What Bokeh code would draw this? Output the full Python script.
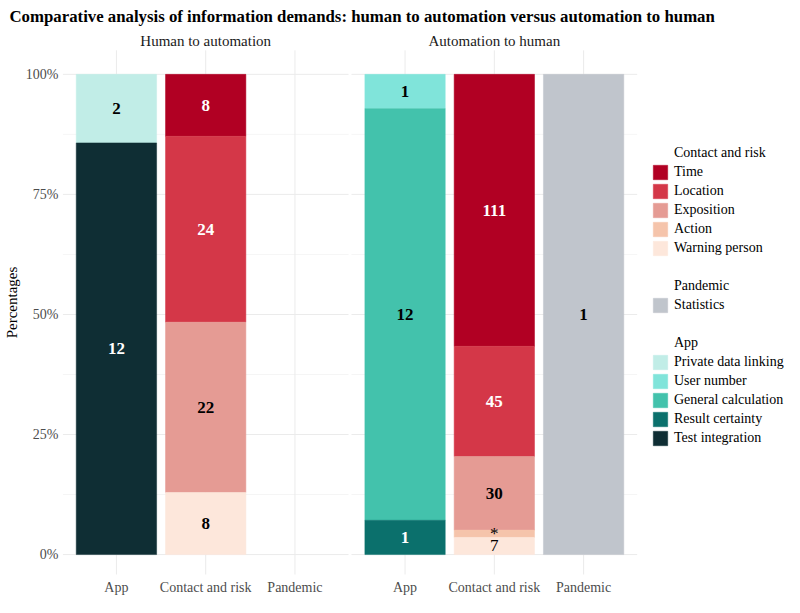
from bokeh.plotting import figure
from bokeh.models import (ColumnDataSource, Range1d, FixedTicker, NumeralTickFormatter,
                          CustomJSTickFormatter, Legend, LegendItem)
from bokeh.core.properties import value
from bokeh.embed import file_html
from bokeh.resources import INLINE

# ---------------- data ----------------
title_text = "Comparative analysis of information demands: human to automation versus automation to human"
panels = ["Human to automation", "Automation to human"]
categories = ["App", "Contact and risk", "Pandemic"]

row_panel = ["Human to automation", "Human to automation",
             "Human to automation", "Human to automation", "Human to automation", "Human to automation",
             "Automation to human", "Automation to human", "Automation to human",
             "Automation to human", "Automation to human", "Automation to human",
             "Automation to human", "Automation to human",
             "Automation to human"]
row_category = ["App", "App",
                "Contact and risk", "Contact and risk", "Contact and risk", "Contact and risk",
                "App", "App", "App",
                "Contact and risk", "Contact and risk", "Contact and risk", "Contact and risk", "Contact and risk",
                "Pandemic"]
row_sub = ["Test integration", "Private data linking",
           "Warning person", "Exposition", "Location", "Time",
           "Result certainty", "General calculation", "User number",
           "Warning person", "Action", "Exposition", "Location", "Time",
           "Statistics"]
row_count = [12, 2,
             8, 22, 24, 8,
             1, 12, 1,
             7, 3, 30, 45, 111,
             1]
row_label = ["12", "2",
             "8", "22", "24", "8",
             "1", "12", "1",
             "7", "*", "30", "45", "111",
             "1"]

# stacking order, bottom to top
stack_order = {
    "App": ["Test integration", "Result certainty", "General calculation", "User number", "Private data linking"],
    "Contact and risk": ["Warning person", "Action", "Exposition", "Location", "Time"],
    "Pandemic": ["Statistics"],
}
legend_groups = ["Contact and risk", "Pandemic", "App"]

y_ticks = [0, 0.25, 0.5, 0.75, 1.0]
y_minor = [0.125, 0.375, 0.625, 0.875]

# ---------------- styles ----------------
fill = {
    "Time": "#B10023", "Location": "#D43748", "Exposition": "#E59B94",
    "Action": "#F5C4AB", "Warning person": "#FDE7DB",
    "Statistics": "#C0C5CC",
    "Private data linking": "#C1EDE7", "User number": "#80E4DA",
    "General calculation": "#43C2AC", "Result certainty": "#0B706C",
    "Test integration": "#0F2E34",
}
white_text = {"Time", "Location", "Test integration", "Result certainty"}
FONT = "Liberation Serif"
PANEL_OFFSET = 3.233
BAR_W = 0.9
LEFT = 53
FRAME_W = 723
PX_PER_UNIT = 89.4

def xpos(panel, cat):
    return categories.index(cat) + 1 + panels.index(panel) * PANEL_OFFSET

# stack computation
totals = {}
for pn, c, n in zip(row_panel, row_category, row_count):
    totals[(pn, c)] = totals.get((pn, c), 0) + n

seg = {}
for pn in panels:
    for c in categories:
        cum = 0.0
        for s in stack_order[c]:
            for i in range(len(row_sub)):
                if row_panel[i] == pn and row_category[i] == c and row_sub[i] == s:
                    frac = row_count[i] / totals[(pn, c)]
                    seg[i] = (cum, cum + frac)
                    cum += frac

p = figure(width=784, height=597, output_backend="svg", toolbar_location=None,
           x_range=Range1d(0.396, 0.396 + FRAME_W / PX_PER_UNIT), y_range=Range1d(-0.0415, 1.0913),
           min_border_left=LEFT, min_border_right=0, min_border_top=29, min_border_bottom=22)
p.outline_line_color = None
p.xgrid.visible = False
p.ygrid.visible = False

# title
p.title.text = title_text
p.title.align = "left"
p.title.offset = -LEFT
p.title.standoff = 9
p.title.text_font = FONT
p.title.text_font_size = "16.8px"
p.title.text_font_style = "bold"
p.title.text_color = "#000000"

# grid lines per panel
gx0, gx1, gy0, gy1, gw = [], [], [], [], []
for k in range(len(panels)):
    lo, hi = 0.4 + k * PANEL_OFFSET, 3.6 + k * PANEL_OFFSET
    for yv in y_ticks:
        gx0.append(lo); gx1.append(hi); gy0.append(yv); gy1.append(yv); gw.append(1.0)
    for yv in y_minor:
        gx0.append(lo); gx1.append(hi); gy0.append(yv); gy1.append(yv); gw.append(0.5)
    for c in categories:
        xv = xpos(panels[k], c)
        gx0.append(xv); gx1.append(xv); gy0.append(-0.05); gy1.append(1.05); gw.append(1.0)
p.segment(x0=gx0, x1=gx1, y0=gy0, y1=gy1, line_color="#EBEBEB", line_width=gw)

# bars, one renderer per sub-category
renderers = {}
for s in fill:
    idx = [i for i in range(len(row_sub)) if row_sub[i] == s]
    src = ColumnDataSource(dict(
        x=[xpos(row_panel[i], row_category[i]) for i in idx],
        bottom=[seg[i][0] for i in idx],
        top=[seg[i][1] for i in idx],
    ))
    renderers[s] = p.vbar(x="x", bottom="bottom", top="top", width=BAR_W, source=src,
                          fill_color=fill[s], line_color=fill[s], line_width=0.5)

# labels
lab = ColumnDataSource(dict(
    x=[xpos(row_panel[i], row_category[i]) for i in range(len(row_sub))],
    y=[(seg[i][0] + seg[i][1]) / 2 for i in range(len(row_sub))],
    text=row_label,
    color=["white" if row_sub[i] in white_text else "black" for i in range(len(row_sub))],
    style=["bold" if (seg[i][1] - seg[i][0]) > 0.05 else "normal" for i in range(len(row_sub))],
))
p.text(x="x", y="y", text="text", source=lab, text_color="color", text_font_style="style",
       text_font=value(FONT), text_font_size="17px", text_align="center", text_baseline="middle")

# facet strip labels
p.text(x=[xpos(pn, "Contact and risk") for pn in panels], y=[1.0685, 1.0685], text=panels,
       text_font=value(FONT), text_font_size="15px", text_color="#1A1A1A",
       text_align="center", text_baseline="middle")

# axes
tick_pos = [xpos(pn, c) for pn in panels for c in categories]
tick_names = [c for pn in panels for c in categories]
p.xaxis.ticker = FixedTicker(ticks=tick_pos)
p.xaxis.formatter = CustomJSTickFormatter(args=dict(pos=tick_pos, names=tick_names), code="""
    for (let i = 0; i < pos.length; i++) { if (Math.abs(pos[i] - tick) < 1e-6) return names[i]; }
    return "";
""")
p.yaxis.ticker = FixedTicker(ticks=y_ticks)
p.yaxis.formatter = NumeralTickFormatter(format="0%")
p.yaxis.axis_label = "Percentages"
for ax in (p.xaxis[0], p.yaxis[0]):
    ax.axis_line_color = None
    ax.major_tick_line_color = None
    ax.minor_tick_line_color = None
    ax.major_tick_out = 0
    ax.major_tick_in = 0
    ax.minor_tick_out = 0
    ax.minor_tick_in = 0
    ax.major_label_text_font = FONT
    ax.major_label_text_font_size = "14px"
    ax.major_label_text_color = "#4D4D4D"
p.yaxis.major_label_standoff = 4
p.xaxis.major_label_standoff = 5
p.yaxis.axis_label_text_font = FONT
p.yaxis.axis_label_text_font_size = "15px"
p.yaxis.axis_label_text_font_style = "normal"
p.yaxis.axis_label_text_color = "#000000"
p.yaxis.axis_label_standoff = 3

# legend with group headings
dummy = p.vbar(x=[], top=[], width=0.9, fill_alpha=0, line_alpha=0)
items = []
for gi, g in enumerate(legend_groups):
    if gi > 0:
        items.append(LegendItem(label=" ", renderers=[dummy]))
    items.append(LegendItem(label=g, renderers=[dummy]))
    for s in reversed(stack_order[g]):
        items.append(LegendItem(label=s, renderers=[renderers[s]]))
legend = Legend(items=items, location=(589, 127), glyph_width=18, glyph_height=18,
                label_height=17, label_standoff=5, spacing=1, padding=0, margin=0,
                border_line_alpha=0, background_fill_alpha=0,
                label_text_font=FONT, label_text_font_size="14px", label_text_color="#000000")
p.add_layout(legend)

open("out.html", "w").write(file_html(p, INLINE))
